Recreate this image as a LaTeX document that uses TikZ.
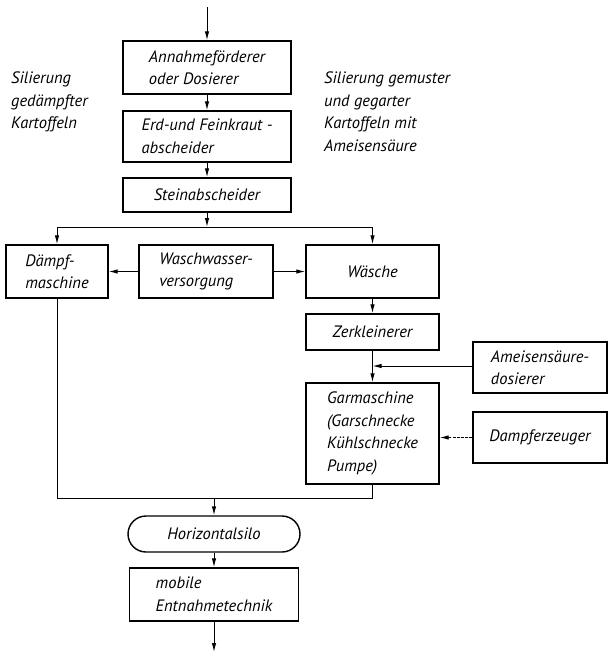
\documentclass[tikz,border=0pt]{standalone}
\usepackage{fontspec}
\setmainfont{PT Sans}
\usetikzlibrary{arrows.meta}
\begin{document}
\begin{tikzpicture}[x=1pt,y=-1pt,
  every node/.style={font=\itshape\fontsize{16.5}{22.5}\selectfont},
  box/.style={draw, line width=1.4pt, align=left, inner sep=0pt},
  txt/.style={align=left, inner sep=0pt},
  conn/.style={line width=1pt},
  arr/.style={conn, -{Latex[length=9pt,width=4.5pt]}},
  dsh/.style={dash pattern=on 3pt off 1.2pt}
]
\useasboundingbox (0,0) rectangle (608,656);

\node[box, minimum width=168pt, minimum height=53pt] (ann) at (207,67.5) {Annahmeförderer\\oder Dosierer};
\node[box, minimum width=168pt, minimum height=51pt] (erd) at (207,136.5) {Erd-und Feinkraut -\\abscheider};
\node[box, minimum width=168pt, minimum height=34pt] (stein) at (207,195) {Steinabscheider};
\node[box, minimum width=102pt, minimum height=53pt] (daempf) at (57,271.5) {Dämpf-\\maschine};
\node[box, minimum width=134pt, minimum height=53pt] (wasch) at (206,271.5) {Waschwasser-\\versorgung};
\node[box, minimum width=133pt, minimum height=53pt] (waesche) at (372.5,271.5) {Wäsche};
\node[box, minimum width=133pt, minimum height=36pt] (zerk) at (372.5,332) {Zerkleinerer};
\node[box, minimum width=133pt, minimum height=101pt] (gar) at (372.5,433.5) {Garmaschine\\(Garschnecke\\Kühlschnecke\\Pumpe)};
\node[box, minimum width=134pt, minimum height=51pt] (ameis) at (540,367.5) {Ameisensäure-\\dosierer};
\node[box, minimum width=134pt, minimum height=51pt] (dampf) at (540,437.5) {Dampferzeuger};
\node[box, rounded corners=18pt, minimum width=172pt, minimum height=36pt] (silo) at (214,534) {Horizontalsilo};
\node[box, minimum width=169pt, minimum height=53pt] (entn) at (214,594.5) {mobile\\Entnahmetechnik};

\node[txt, anchor=north west] (lt) at (11,72) {Silierung\\gedämpfter\\Kartoffeln};
\node[txt, anchor=north west] (rt) at (324,72) {Silierung gemuster\\und gegarter\\Kartoffeln mit\\Ameisensäure};

\coordinate (in) at (207,7);
\draw[arr] (in) -- (ann);
\draw[arr] (ann) -- (erd);
\draw[arr] (erd) -- (stein);
\coordinate (br) at (207,227);
\coordinate (brl) at (57,227);
\coordinate (brr) at (372.5,227);
\draw[arr] (stein) -- (br);
\draw[conn] (brl) -- (brr);
\draw[arr] (brl) -- (daempf);
\draw[arr] (brr) -- (waesche);
\draw[arr] (wasch) -- (daempf);
\draw[arr] (wasch) -- (waesche);
\draw[arr] (waesche) -- (zerk);
\draw[arr] (zerk) -- (gar);
\coordinate (am) at (372.5,366);
\draw[arr] (ameis.west |- am) -- (am);
\draw[arr, dsh] (dampf.west) -- (gar.east |- dampf.west);
\coordinate (jl) at (57,498);
\coordinate (jr) at (372.5,498);
\coordinate (jm) at (214,498);
\draw[conn] (daempf) -- (jl) -- (jr) -- (gar);
\draw[arr] (jm) -- (silo);
\draw[arr] (silo) -- (entn);
\coordinate (out) at (214,652);
\draw[arr] (entn) -- (out);
\end{tikzpicture}
\end{document}
